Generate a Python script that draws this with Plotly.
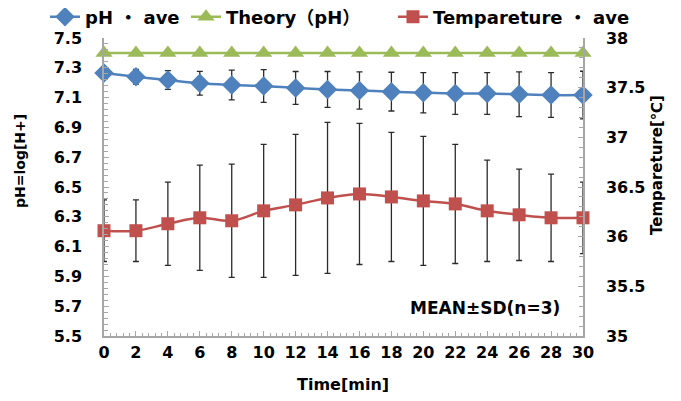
import plotly.graph_objects as go

# ---- data ----
time_min = [0, 2, 4, 6, 8, 10, 12, 14, 16, 18, 20, 22, 24, 26, 28, 30]
ph_ave = [7.265, 7.24, 7.218, 7.196, 7.185, 7.178, 7.165, 7.155, 7.147, 7.14, 7.133, 7.128, 7.128, 7.122, 7.117, 7.117]
ph_sd = [0.01, 0.05, 0.063, 0.08, 0.1, 0.11, 0.11, 0.12, 0.125, 0.13, 0.135, 0.14, 0.14, 0.15, 0.15, 0.16]
theory_ph = [7.4] * 16
temp_ave = [36.06, 36.06, 36.13, 36.19, 36.16, 36.26, 36.32, 36.39, 36.43, 36.40, 36.36, 36.33, 36.26, 36.22, 36.19, 36.19]
temp_sd = [0.31, 0.31, 0.42, 0.53, 0.57, 0.67, 0.71, 0.76, 0.71, 0.65, 0.65, 0.6, 0.51, 0.46, 0.44, 0.36]

ph_ticks = [5.5, 5.7, 5.9, 6.1, 6.3, 6.5, 6.7, 6.9, 7.1, 7.3, 7.5]
temp_ticks = [35, 35.5, 36, 36.5, 37, 37.5, 38]
x_ticks = list(range(0, 31, 2))

FONT = "DejaVu Sans, Noto Sans CJK JP, sans-serif"
AXIS_GRAY = "#A6A6A6"
EB_COLOR = "#2b2b2b"
OFF = 8  # page body margin

# plot area in window pixels: x 104..583, y 38..336
L, R, T, B = 104, 583, 38, 336
PW, PH = R - L, B - T

fig = go.Figure()

fig.add_trace(go.Scatter(
    x=time_min, y=ph_ave, name="<b>pH ・ ave</b>", mode="lines+markers",
    line=dict(color="#4F81BD", width=2.5, shape="spline"),
    marker=dict(symbol="diamond", size=15, color="#4F81BD"),
    error_y=dict(type="data", array=ph_sd, visible=True, color=EB_COLOR, thickness=1.3, width=3),
    cliponaxis=False, legend="legend", yaxis="y", showlegend=True,
))
fig.add_trace(go.Scatter(
    x=time_min, y=theory_ph, name="<b>Theory（pH）</b>", mode="lines+markers",
    line=dict(color="#9BBB59", width=2.5),
    marker=dict(symbol="triangle-up", size=15, color="#9BBB59"),
    cliponaxis=False, legend="legend2", yaxis="y", showlegend=True,
))
fig.add_trace(go.Scatter(
    x=time_min, y=temp_ave, name="<b>Tempareture ・ ave</b>", mode="lines+markers",
    line=dict(color="#C0504D", width=2.5, shape="spline"),
    marker=dict(symbol="square", size=13, color="#C0504D"),
    error_y=dict(type="data", array=temp_sd, visible=True, color=EB_COLOR, thickness=1.3, width=3),
    cliponaxis=False, legend="legend3", yaxis="y2", showlegend=True,
))

leg_common = dict(orientation="h", xref="container", yref="container",
                  yanchor="middle", y=1 - (17 - OFF) / 401, bgcolor="rgba(0,0,0,0)",
                  font=dict(family=FONT, size=18, color="#000000"))


def px(xw):
    return (xw - L) / PW


def py(yw):
    return (B - yw) / PH


fig.update_layout(
    width=681, height=401, showlegend=True,
    margin=dict(l=L - OFF, r=681 - (R - OFF), t=T - OFF, b=401 - (B - OFF), autoexpand=False),
    paper_bgcolor="white", plot_bgcolor="white",
    font=dict(family=FONT, color="#000000"),
    legend=dict(x=(85 - 40 - OFF) / 681, **leg_common),
    legend2=dict(x=(226 - 40 - OFF) / 681, **leg_common),
    legend3=dict(x=(433 - 40 - OFF) / 681, **leg_common),
    xaxis=dict(
        range=[0, 30], tickvals=x_ticks, ticktext=["<b>%d</b>" % v for v in x_ticks],
        ticks="inside", ticklen=5, tickcolor=AXIS_GRAY,
        minor=dict(dtick=0.4, tick0=0, ticks="inside", ticklen=3, tickcolor=AXIS_GRAY),
        showline=True, linecolor=AXIS_GRAY, linewidth=1.5,
        showgrid=False, zeroline=False, automargin=False,
        tickfont=dict(family=FONT, size=16, color="#000000"),
        ticklabelstandoff=1,
    ),
    yaxis=dict(
        range=[5.5, 7.5], tickvals=ph_ticks, ticktext=["<b>%.1f</b>" % v for v in ph_ticks],
        ticks="inside", ticklen=5, tickcolor=AXIS_GRAY,
        minor=dict(dtick=0.04, tick0=5.5, ticks="inside", ticklen=4, tickcolor=AXIS_GRAY),
        showline=True, linecolor=AXIS_GRAY, linewidth=1.5,
        showgrid=False, zeroline=False, automargin=False,
        tickfont=dict(family=FONT, size=16, color="#000000"),
        ticklabelstandoff=17,
    ),
    yaxis2=dict(
        range=[35, 38], tickvals=temp_ticks, ticktext=["<b>%g</b>" % v for v in temp_ticks],
        overlaying="y", side="right",
        ticks="inside", ticklen=5, tickcolor=AXIS_GRAY,
        minor=dict(dtick=0.1, tick0=35, ticks="inside", ticklen=4, tickcolor=AXIS_GRAY),
        showline=True, linecolor=AXIS_GRAY, linewidth=1.5,
        showgrid=False, zeroline=False, automargin=False,
        tickfont=dict(family=FONT, size=16, color="#000000"),
        ticklabelstandoff=18,
    ),
    annotations=[
        dict(text="<b>MEAN±SD(n=3)</b>", xref="paper", yref="paper",
             x=px(485), y=py(308), xanchor="center", yanchor="middle",
             showarrow=False, font=dict(family=FONT, size=17, color="#000000")),
        dict(text="<b>pH=log[H+]</b>", xref="paper", yref="paper",
             x=px(20), y=py(161), xanchor="center", yanchor="middle", textangle=-90,
             showarrow=False, font=dict(family=FONT, size=14, color="#000000")),
        dict(text="<b>Tempareture[℃]</b>", xref="paper", yref="paper",
             x=px(657), y=py(165), xanchor="center", yanchor="middle", textangle=-90,
             showarrow=False, font=dict(family=FONT, size=15, color="#000000")),
        dict(text="<b>Time[min]</b>", xref="paper", yref="paper",
             x=px(343), y=py(384), xanchor="center", yanchor="middle",
             showarrow=False, font=dict(family=FONT, size=16, color="#000000")),
    ],
)

fig.write_html("out.html")
